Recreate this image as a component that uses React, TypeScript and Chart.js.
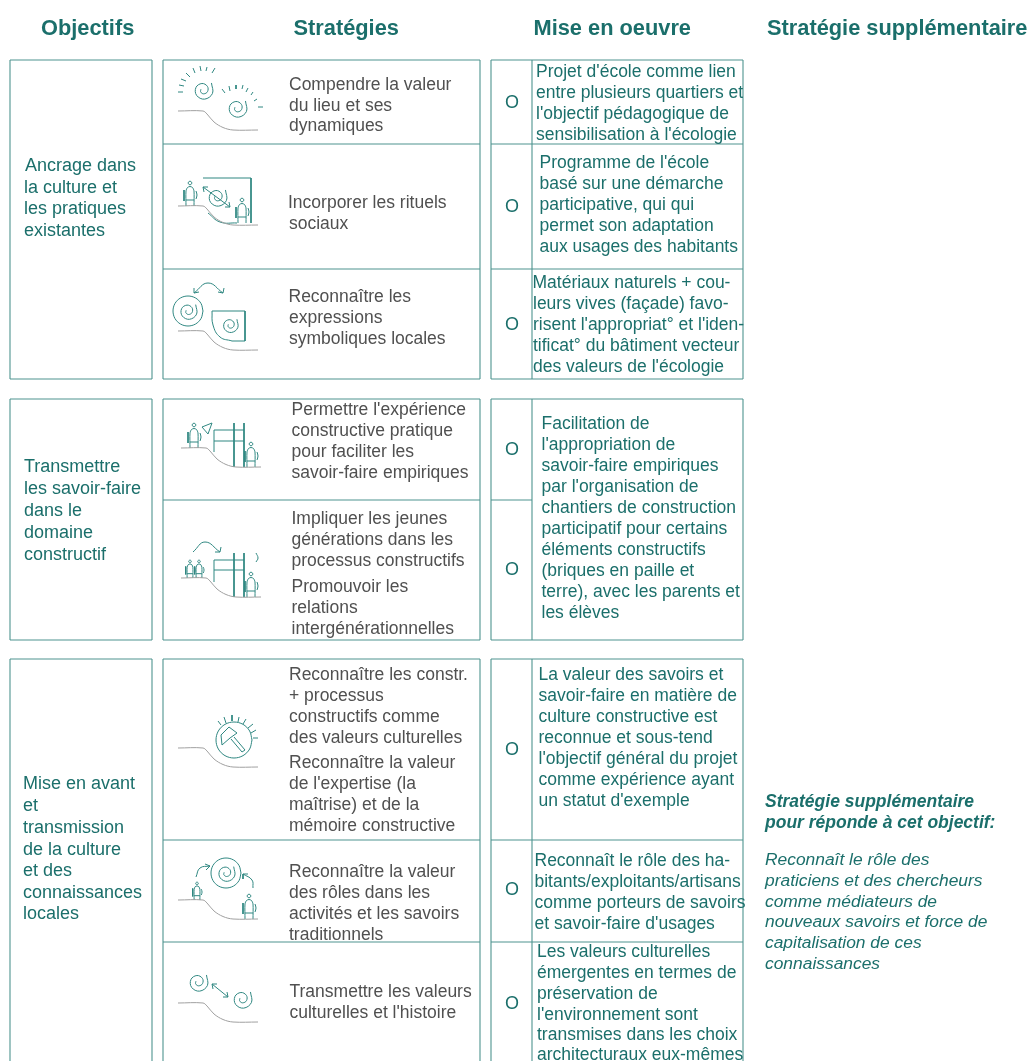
import React, { useEffect, useRef } from "react";
import { Chart, registerables } from "chart.js";

Chart.register(...registerables);

type P = [number, number];
type Line = [string, number, number];

const TEAL = "#1b6f6b";
const GREY = "#505050";
const RULE = "#4f9490";
const ICON = "#2f8781";
const HILL = "#a0a0a0";

const headers: Line[] = [
  ["Objectifs", 41, 28],
  ["Stratégies", 293.5, 28],
  ["Mise en oeuvre", 533.5, 28],
  ["Stratégie supplémentaire", 767, 28],
];

const objectifs: Line[] = [
  ["Ancrage dans", 25, 165], ["la culture et", 24, 187], ["les pratiques", 24, 208], ["existantes", 24, 230],
  ["Transmettre", 24, 466], ["les savoir-faire", 24, 488], ["dans le", 24, 510], ["domaine", 24, 532], ["constructif", 24, 554],
  ["Mise en avant", 23, 783], ["et", 23, 805], ["transmission", 23, 827], ["de la culture", 23, 849], ["et des", 23, 870], ["connaissances", 23, 892], ["locales", 23, 913],
];

const strategies: Line[] = [
  ["Compendre la valeur", 289, 84], ["du lieu et ses", 289, 105], ["dynamiques", 289, 125],
  ["Incorporer les rituels", 288, 202], ["sociaux", 289, 223],
  ["Reconnaître les", 288.5, 296], ["expressions", 289, 317], ["symboliques locales", 289, 338],
  ["Permettre l'expérience", 291.5, 409], ["constructive pratique", 291.5, 430], ["pour faciliter les", 291.5, 451], ["savoir-faire empiriques", 291.5, 472],
  ["Impliquer les jeunes", 291.5, 518], ["générations dans les", 291.5, 539], ["processus constructifs", 291.5, 560],
  ["Promouvoir les", 291.5, 586], ["relations", 291.5, 607], ["intergénérationnelles", 291.5, 628],
  ["Reconnaître les constr.", 289, 674], ["+ processus", 289, 695], ["constructifs comme", 289, 716], ["des valeurs culturelles", 289, 737],
  ["Reconnaître la valeur", 289, 762], ["de l'expertise (la", 289, 783], ["maîtrise) et de la", 289, 804], ["mémoire constructive", 289, 825],
  ["Reconnaître la valeur", 289, 871], ["des rôles dans les", 289, 892], ["activités et les savoirs", 289, 913], ["traditionnels", 289, 934],
  ["Transmettre les valeurs", 289.5, 991], ["culturelles et l'histoire", 289.5, 1012],
];

const miseEnOeuvre: Line[] = [
  ["Projet d'école comme lien", 536, 71], ["entre plusieurs quartiers et", 536, 92], ["l'objectif pédagogique de", 536, 113], ["sensibilisation à l'écologie", 536, 134],
  ["Programme de l'école", 539.5, 162], ["basé sur une démarche", 539.5, 183], ["participative, qui qui", 539.5, 204], ["permet son adaptation", 539.5, 225], ["aux usages des habitants", 539.5, 246],
  ["Matériaux naturels + cou-", 532.5, 282], ["leurs vives (façade) favo-", 533, 303], ["risent l'appropriat° et l'iden-", 533, 324], ["tificat° du bâtiment vecteur", 533, 345], ["des valeurs de l'écologie", 533, 366],
  ["Facilitation de", 541.5, 423], ["l'appropriation de", 541.5, 444], ["savoir-faire empiriques", 541.5, 465], ["par l'organisation de", 541.5, 486], ["chantiers de construction", 541.5, 507], ["participatif pour certains", 541.5, 528], ["éléments constructifs", 541.5, 549], ["(briques en paille et", 541.5, 570], ["terre), avec les parents et", 541.5, 591], ["les élèves", 541.5, 612],
  ["La valeur des savoirs et", 538.5, 674], ["savoir-faire en matière de", 538.5, 695], ["culture constructive est", 538.5, 716], ["reconnue et sous-tend", 538.5, 737], ["l'objectif général du projet", 538.5, 758], ["comme expérience ayant", 538.5, 779], ["un statut d'exemple", 538.5, 800],
  ["Reconnaît le rôle des ha-", 534.5, 860], ["bitants/exploitants/artisans", 534.5, 881], ["comme porteurs de savoirs", 534.5, 902], ["et savoir-faire d'usages", 534.5, 923],
  ["Les valeurs culturelles", 537, 951], ["émergentes en termes de", 537, 972], ["préservation de", 537, 993], ["l'environnement sont", 537, 1014], ["transmises dans les choix", 537, 1034], ["architecturaux eux-mêmes", 537, 1054],
];

const marks: P[] = [[505, 102], [505, 206], [505, 324], [505, 449], [505, 569], [505, 749], [505, 889], [505, 1003]];
const markLabel = "O";

const supplementTitle: Line[] = [
  ["Stratégie supplémentaire", 765, 801],
  ["pour réponde à cet objectif:", 765, 822],
];
const supplementBody: Line[] = [
  ["Reconnaît le rôle des", 765, 859], ["praticiens et des chercheurs", 765, 880], ["comme médiateurs de", 765, 901],
  ["nouveaux savoirs et force de", 765, 921], ["capitalisation de ces", 765, 942], ["connaissances", 765, 963],
];

// table rules: horizontal [y, x0, x1], vertical [x, y0, y1]
const hRules: [number, number, number][] = [
  [60, 10, 152], [379, 10, 152], [399, 10, 152], [640, 10, 152], [659, 10, 152],
  [60, 163, 480], [144, 163, 480], [269, 163, 480], [379, 163, 480],
  [399, 163, 480], [500, 163, 480], [640, 163, 480],
  [659, 163, 480], [840, 163, 480], [942, 163, 480],
  [60, 491, 743], [144, 491, 743], [269, 491, 743], [379, 491, 743],
  [399, 491, 743], [500, 491, 532], [640, 491, 743],
  [659, 491, 743], [840, 491, 743], [942, 491, 743],
];
const vRules: [number, number, number][] = [
  [10, 60, 379], [152, 60, 379], [10, 399, 640], [152, 399, 640], [10, 659, 1061], [152, 659, 1061],
  [163, 60, 379], [480, 60, 379], [163, 399, 640], [480, 399, 640], [163, 659, 1061], [480, 659, 1061],
  [491, 60, 379], [532, 60, 379], [743, 60, 379],
  [491, 399, 640], [532, 399, 640], [743, 399, 640],
  [491, 659, 1061], [532, 659, 1061], [743, 659, 1061],
];

// hill outline origin of each pictogram
const hills: P[] = [[178, 111], [178, 206], [178, 331], [181, 448], [181, 578], [178, 748], [178, 900], [178, 1003]];
const hillShape: P[] = [[0, 0], [25, 0], [29, 3], [36, 11], [45, 16.5], [55, 19], [80, 19]];

const spiralShape: P[] = [
  [-0.19, -0.07], [-0.21, 0.18], [0.06, 0.35], [0.41, 0.15], [0.4, -0.33], [-0.1, -0.59],
  [-0.64, -0.23], [-0.58, 0.49], [0.15, 0.83], [0.86, 0.31], [0.77, -0.64],
];
const spirals: [number, number, number][] = [
  [203, 90, 11], [237, 108, 11], [217, 197, 11], [188, 311, 10], [230, 325, 9],
  [226, 873, 10], [198, 982, 11], [242, 999, 11],
];

const circleShape: P[] = [
  [1, 0], [0.87, 0.5], [0.5, 0.87], [0, 1], [-0.5, 0.87], [-0.87, 0.5], [-1, 0],
  [-0.87, -0.5], [-0.5, -0.87], [0, -1], [0.5, -0.87], [0.87, -0.5], [1, 0],
];
const circles: [number, number, number][] = [
  [188, 311, 15], [234, 740, 18], [226, 873, 15],
];

const personBody: P[] = [[-4, 0], [-4, -15], [-2.5, -18.5], [0, -19.5], [2.5, -18.5], [4, -15], [4, 0]];
const personWaist: P[] = [[-4, -6], [4, -6]];
const personArmL: P[] = [[-6, -16], [-6, -5]];
const personArmR: P[] = [[6, -15], [7, -11], [6, -7]];
const personHead: [number, number, number] = [0, -23, 1.8];
const persons: [number, number, number][] = [
  [190, 206, 1], [242, 223, 1], [194, 448, 1], [251, 467, 1], [190, 578, 0.72], [199, 578, 0.72], [251, 597, 1], [197, 900, 0.72], [249, 919, 1],
];

// curved strokes of the pictograms
const curves: P[][] = [
  [[208, 213], [220, 222], [237, 223]],
  [[194, 293], [208, 283], [223, 293]],
  [[212, 311], [213, 325], [220, 337], [232, 341]],
  [[193, 552], [205, 542], [220, 552]],
  [[256, 553], [258, 558], [256, 562]],
  [[196, 877], [200, 868], [210, 866]],
  [[253, 888], [252, 880], [243, 874]],
];

// straight strokes of the pictograms
const segments: P[][] = [
  // sun 1
  [[178, 92], [183, 92]], [[179, 85], [184, 86]], [[181, 79], [186, 81]], [[186, 73], [190, 77]], [[193, 68], [195, 73]], [[200, 66], [201, 71]], [[207, 67], [206, 71]], [[215, 68], [212, 73]],
  // sun 2
  [[222, 89], [225, 93]], [[229, 86], [230, 91]], [[236, 85], [236, 89]], [[243, 85], [242, 89]], [[248, 88], [246, 92]], [[253, 92], [251, 95]], [[257, 99], [254, 101]], [[263, 107], [258, 107]],
  // icon 2
  [[203, 178], [251, 178], [251, 223]], [[203, 187], [230, 207]], [[203, 187], [204, 192]], [[203, 187], [208, 187]], [[230, 207], [225, 207]], [[230, 207], [229, 202]],
  // icon 3 arrowheads and frame
  [[194, 293], [194, 288]], [[194, 293], [199, 292]], [[223, 293], [218, 292]], [[223, 293], [224, 288]],
  [[212, 311], [245, 311], [245, 341], [232, 341]],
  // icon 4
  [[214, 452], [214, 430], [244, 430]], [[214, 441], [244, 441]], [[234, 423], [234, 467]], [[244, 423], [244, 467]], [[212, 423], [202, 427], [208, 434], [212, 423]],
  // icon 5
  [[214, 582], [214, 560], [244, 560]], [[214, 570], [244, 570]], [[234, 553], [234, 597]], [[244, 553], [244, 597]], [[220, 552], [215, 552]], [[220, 552], [221, 547]],
  // icon 6
  [[218, 721], [221, 725]], [[224, 717], [226, 723]], [[232, 715], [232, 721]], [[239, 717], [238, 722]], [[246, 719], [243, 724]], [[253, 724], [248, 728]], [[256, 730], [251, 733]], [[258, 738], [253, 738]],
  [[222, 745], [221, 735], [229, 727], [237, 733], [230, 738], [222, 745]], [[231, 739], [242, 752], [245, 750], [234, 737]],
  // icon 7
  [[210, 866], [205, 864]], [[210, 866], [206, 870]], [[243, 874], [248, 874]], [[243, 874], [243, 879]],
  // icon 8
  [[212, 984], [228, 997]], [[212, 984], [213, 989]], [[212, 984], [217, 984]], [[228, 997], [223, 997]], [[228, 997], [227, 992]],
];

const toPts = (line: P[]) => line.map(([x, y]) => ({ x, y }));

function strokeSets() {
  const sets: any[] = [];
  const add = (line: P[], color: string, tension: number, borderWidth = 1) =>
    sets.push({ type: "scatter", data: toPts(line), showLine: true, tension, borderColor: color, borderWidth, pointRadius: 0 });
  hRules.forEach(([y, a, b]) => add([[a, y], [b, y]], RULE, 0, 1.1));
  vRules.forEach(([x, a, b]) => add([[x, a], [x, b]], RULE, 0, 1.1));
  hills.forEach(([ox, oy]) => add(hillShape.map(([x, y]) => [ox + x, oy + y] as P), HILL, 0.35));
  spirals.forEach(([cx, cy, r]) => add(spiralShape.map(([x, y]) => [cx + x * r, cy + y * r] as P), ICON, 0.4));
  circles.forEach(([cx, cy, r]) => add(circleShape.map(([x, y]) => [cx + x * r, cy + y * r] as P), ICON, 0.35));
  persons.forEach(([cx, cy, s]) => {
    const place = (line: P[]) => line.map(([x, y]) => [cx + x * s, cy + y * s] as P);
    add(place(personBody), ICON, 0.25);
    add(place(personWaist), ICON, 0);
    add(place(personArmL), ICON, 0);
    add(place(personArmR), ICON, 0.4);
    add(circleShape.map(([x, y]) => [cx + (personHead[0] + x * personHead[2]) * s, cy + (personHead[1] + y * personHead[2]) * s] as P), ICON, 0.35);
  });
  curves.forEach((c) => add(c, ICON, 0.45));
  segments.forEach((s) => add(s, ICON, 0));
  return sets;
}

const textPlugin = {
  id: "tableText",
  afterDatasetsDraw(chart: any) {
    const { ctx, scales } = chart;
    const put = (lines: Line[], font: string, color: string) => {
      ctx.font = font;
      ctx.fillStyle = color;
      ctx.textAlign = "left";
      ctx.textBaseline = "middle";
      lines.forEach(([t, x, y]) => ctx.fillText(t, scales.x.getPixelForValue(x), scales.y.getPixelForValue(y) + 1));
    };
    ctx.save();
    const F = '"Liberation Sans", Arial, sans-serif';
    put(headers, `bold 21.8px ${F}`, TEAL);
    put(objectifs, `18px ${F}`, TEAL);
    put(strategies, `17.5px ${F}`, GREY);
    put(miseEnOeuvre, `17.5px ${F}`, TEAL);
    put(marks.map(([x, y]) => [markLabel, x, y] as Line), `18px ${F}`, TEAL);
    put(supplementTitle, `italic bold 17.5px ${F}`, TEAL);
    put(supplementBody, `italic 17.4px ${F}`, TEAL);
    ctx.restore();
  },
};

export default function App() {
  const ref = useRef<HTMLCanvasElement>(null);
  useEffect(() => {
    if (!ref.current) return;
    const chart = new Chart(ref.current, {
      type: "scatter",
      data: { datasets: strokeSets() },
      options: {
        animation: false,
        responsive: false,
        layout: { padding: 0 },
        plugins: { legend: { display: false }, tooltip: { enabled: false }, title: { display: false } },
        scales: {
          x: { type: "linear", min: 0, max: 1028, display: false },
          y: { type: "linear", min: 0, max: 1061, reverse: true, display: false },
        },
      },
      plugins: [textPlugin],
    } as any);
    return () => chart.destroy();
  }, []);
  return (
    <canvas
      ref={ref}
      width={1028}
      height={1061}
      style={{ position: "absolute", left: 0, top: 0, width: 1028, height: 1061, background: "#fff" }}
    />
  );
}
